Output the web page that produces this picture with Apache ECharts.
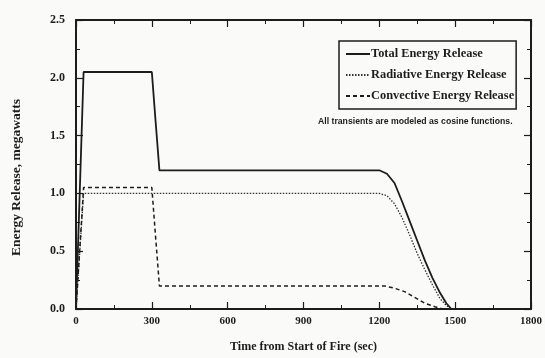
<!DOCTYPE html>
<html>
<head>
<meta charset="utf-8">
<script src="https://cdn.jsdelivr.net/npm/echarts@6/dist/echarts.min.js"></script>
<style>
html,body{margin:0;padding:0;background:#fafaf9;}
#c{width:545px;height:358px;}
</style>
</head>
<body>
<div id="c"></div>
<script>
// Data
var xTicks = [0, 300, 600, 900, 1200, 1500, 1800];
var yTicks = [0.0, 0.5, 1.0, 1.5, 2.0, 2.5];

var totalTime   = [0, 15, 30, 300, 315, 330, 1200, 1230, 1260, 1290, 1320, 1350, 1380, 1410, 1440, 1465, 1485];
var totalValue  = [0, 1.02, 2.05, 2.05, 1.62, 1.2, 1.2, 1.17, 1.09, 0.93, 0.76, 0.59, 0.42, 0.27, 0.14, 0.05, 0];

var radTime     = [0, 15, 30, 1200, 1230, 1260, 1290, 1320, 1350, 1380, 1410, 1440, 1465, 1485];
var radValue    = [0, 0.5, 1.0, 1.0, 0.98, 0.91, 0.79, 0.64, 0.48, 0.34, 0.21, 0.09, 0.03, 0];

var convTime    = [0, 15, 30, 300, 315, 330, 1220, 1260, 1300, 1340, 1380, 1420, 1450];
var convValue   = [0, 0.52, 1.05, 1.05, 0.62, 0.2, 0.2, 0.18, 0.15, 0.1, 0.05, 0.02, 0];

var seriesNames = ['Total Energy Release', 'Radiative Energy Release', 'Convective Energy Release'];
var noteText = 'All transients are modeled as cosine functions.';

function pairs(t, v) { return t.map(function (x, i) { return [x, v[i]]; }); }

var ink = '#1c1c1c';
var font = 'Liberation Serif';

var chart = echarts.init(document.getElementById('c'), null, {renderer: 'canvas'});

var axisCommon = {
  axisLine: {show: true, onZero: false, lineStyle: {color: ink, width: 2}},
  axisTick: {show: true, inside: true, length: 7, lineStyle: {color: ink, width: 1.2}},
  minorTick: {show: true, splitNumber: 2, length: 4, lineStyle: {color: ink, width: 1}},
  splitLine: {show: false}
};

chart.setOption({
  backgroundColor: '#fafaf9',
  animation: false,
  grid: {left: 76, right: 12, top: 20, bottom: 45},
  legend: {
    show: true,
    orient: 'vertical',
    left: 339,
    top: 41,
    padding: [7, 2, 7, 6],
    itemGap: 9,
    itemWidth: 24,
    itemHeight: 12,
    borderColor: ink,
    borderWidth: 1.5,
    itemStyle: {opacity: 0},
    textStyle: {fontFamily: font, fontSize: 12.4, fontWeight: 'bold', color: ink, padding: [0, 0, 0, -4]},
    data: seriesNames
  },
  graphic: [{
    type: 'text',
    left: 318,
    top: 117,
    style: {text: noteText, fontFamily: 'Liberation Sans', fontSize: 8.7, fontWeight: 'bold', fill: ink}
  }],
  xAxis: [Object.assign({
    type: 'value', min: 0, max: 1800, interval: 300, position: 'bottom',
    name: 'Time from Start of Fire (sec)', nameLocation: 'middle', nameGap: 32,
    nameTextStyle: {fontFamily: font, fontSize: 12, fontWeight: 'bold', color: ink},
    axisLabel: {fontFamily: font, fontSize: 11, fontWeight: 'bold', color: ink, margin: 7,
      formatter: function (v) { return xTicks.indexOf(v) >= 0 ? String(v) : ''; }}
  }, axisCommon), Object.assign({
    type: 'value', min: 0, max: 1800, interval: 300, position: 'top',
    axisLabel: {show: false}
  }, axisCommon)],
  yAxis: [Object.assign({
    type: 'value', min: 0, max: 2.5, interval: 0.5, position: 'left',
    name: 'Energy Release, megawatts', nameLocation: 'middle', nameGap: 52,
    nameTextStyle: {fontFamily: font, fontSize: 13.5, fontWeight: 'bold', color: ink, padding: [0, 26, 0, 0]},
    axisLabel: {fontFamily: font, fontSize: 12, fontWeight: 'bold', color: ink, margin: 11,
      formatter: function (v) { return yTicks.indexOf(v) >= 0 ? v.toFixed(1) : ''; }}
  }, axisCommon), Object.assign({
    type: 'value', min: 0, max: 2.5, interval: 0.5, position: 'right',
    axisLabel: {show: false}
  }, axisCommon)],
  series: [{
    name: seriesNames[0], type: 'line', data: pairs(totalTime, totalValue),
    showSymbol: false, symbol: 'none', color: ink,
    lineStyle: {color: ink, width: 1.8, type: 'solid'}
  }, {
    name: seriesNames[1], type: 'line', data: pairs(radTime, radValue),
    showSymbol: false, symbol: 'none', color: ink,
    lineStyle: {color: '#333', width: 1.3, type: [1.5, 1.5]}
  }, {
    name: seriesNames[2], type: 'line', data: pairs(convTime, convValue),
    showSymbol: false, symbol: 'none', color: ink,
    lineStyle: {color: ink, width: 1.5, type: [4, 3]}
  }]
});
</script>
</body>
</html>
